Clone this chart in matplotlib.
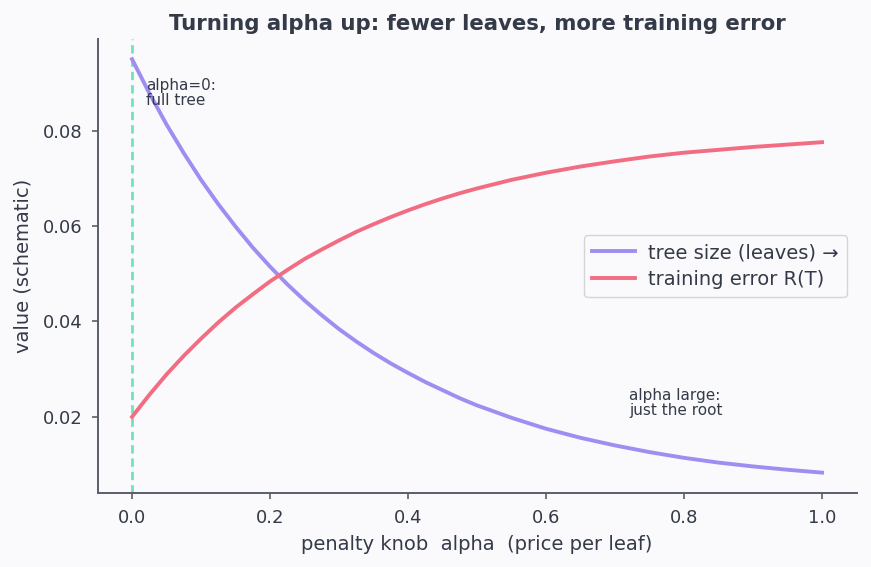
import matplotlib
matplotlib.use("Agg")
import matplotlib.pyplot as plt

plt.rcParams["font.family"] = ["DejaVu Sans"]

# penalty knob alpha (denser where the curves bend)
alpha = [0.000, 0.025, 0.050, 0.075, 0.100, 0.125, 0.150, 0.175, 0.200,
         0.225, 0.250, 0.275, 0.300, 0.325, 0.350, 0.375, 0.400, 0.425,
         0.450, 0.475, 0.500, 0.550, 0.600, 0.650, 0.700, 0.750, 0.800,
         0.850, 0.900, 0.950, 1.000]
tree_size = [0.0950, 0.0879, 0.0813, 0.0753, 0.0697, 0.0646, 0.0599, 0.0555,
             0.0515, 0.0478, 0.0444, 0.0413, 0.0384, 0.0358, 0.0334, 0.0312,
             0.0292, 0.0273, 0.0256, 0.0239, 0.0224, 0.0198, 0.0175, 0.0156,
             0.0140, 0.0126, 0.0114, 0.0104, 0.0096, 0.0089, 0.0083]
train_err = [0.0200, 0.0246, 0.0289, 0.0328, 0.0364, 0.0398, 0.0429, 0.0457,
             0.0484, 0.0508, 0.0531, 0.0551, 0.0570, 0.0588, 0.0604, 0.0619,
             0.0633, 0.0646, 0.0658, 0.0669, 0.0679, 0.0697, 0.0712, 0.0725,
             0.0736, 0.0746, 0.0754, 0.0760, 0.0766, 0.0771, 0.0776]
series_labels = ["tree size (leaves) \u2192", "training error R(T)"]
yticks = [0.02, 0.04, 0.06, 0.08]
xticks = [0.0, 0.2, 0.4, 0.6, 0.8, 1.0]

bg = "#fafafd"
ink = "#343a48"
spine = "#5a5e6a"

fig = plt.figure(figsize=(8.71, 5.67), dpi=100, facecolor=bg)
ax = fig.add_axes([0.112, 0.13, 0.8714, 0.802], facecolor=bg)

ax.axvline(0.0, color="#6fe3bb", lw=2.0, ls=(0, (3.0, 1.8)), zorder=1)
ax.plot(alpha, tree_size, color="#a08df2", lw=2.8, label=series_labels[0], zorder=3)
ax.plot(alpha, train_err, color="#f26d82", lw=2.8, label=series_labels[1], zorder=3)

ax.text(0.02, 0.0848, "alpha=0:\nfull tree", fontsize=11, color=ink,
        ha="left", va="bottom", linespacing=1.0)
ax.text(0.72, 0.0198, "alpha large:\njust the root", fontsize=11, color=ink,
        ha="left", va="bottom", linespacing=1.0)

ax.set_xlim(-0.05, 1.05)
ax.margins(y=0.05)
ax.set_xticks(xticks)
ax.set_yticks(yticks)
ax.tick_params(colors=spine, labelcolor=ink, labelsize=13, length=4.5,
               width=1.2, pad=6.5)
for s in ["top", "right"]:
    ax.spines[s].set_visible(False)
for s in ["left", "bottom"]:
    ax.spines[s].set_color(spine)
    ax.spines[s].set_linewidth(1.4)

ax.set_xlabel("penalty knob  alpha  (price per leaf)", fontsize=14, color=ink,
              labelpad=6)
ax.set_ylabel("value (schematic)", fontsize=14, color=ink, labelpad=7)
ax.set_title("Turning alpha up: fewer leaves, more training error",
             fontsize=15.3, fontweight="bold", color=ink, pad=6)

leg = ax.legend(loc="center right", fontsize=14, frameon=True,
                facecolor=bg, edgecolor="#cccccc", borderpad=0.4,
                handlelength=2.2, handletextpad=0.7, labelspacing=0.4)
for t in leg.get_texts():
    t.set_color(ink)

fig.savefig("out.png", dpi=100, facecolor=bg)
